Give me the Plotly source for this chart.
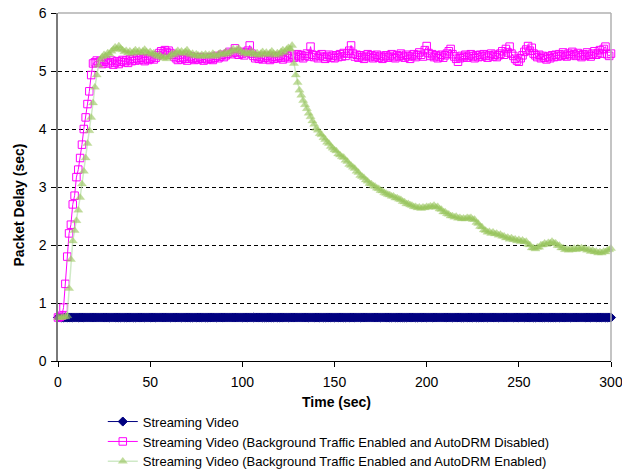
import plotly.graph_objects as go

time_sec = list(range(0, 301))

series_names = [
    "Streaming Video",
    "Streaming Video (Background Traffic Enabled and AutoDRM Disabled)",
    "Streaming Video (Background Traffic Enabled and AutoDRM Enabled)",
]

video_plain = [
    0.75, 0.75, 0.75, 0.75, 0.75, 0.75, 0.75, 0.75, 0.75, 0.75,
    0.75, 0.75, 0.75, 0.75, 0.75, 0.75, 0.75, 0.75, 0.75, 0.75,
    0.75, 0.75, 0.75, 0.75, 0.75, 0.75, 0.75, 0.75, 0.75, 0.75,
    0.75, 0.75, 0.75, 0.75, 0.75, 0.75, 0.75, 0.75, 0.75, 0.75,
    0.75, 0.75, 0.75, 0.75, 0.75, 0.75, 0.75, 0.75, 0.75, 0.75,
    0.75, 0.75, 0.75, 0.75, 0.75, 0.75, 0.75, 0.75, 0.75, 0.75,
    0.75, 0.75, 0.75, 0.75, 0.75, 0.75, 0.75, 0.75, 0.75, 0.75,
    0.75, 0.75, 0.75, 0.75, 0.75, 0.75, 0.75, 0.75, 0.75, 0.75,
    0.75, 0.75, 0.75, 0.75, 0.75, 0.75, 0.75, 0.75, 0.75, 0.75,
    0.75, 0.75, 0.75, 0.75, 0.75, 0.75, 0.75, 0.75, 0.75, 0.75,
    0.75, 0.75, 0.75, 0.75, 0.75, 0.75, 0.75, 0.75, 0.75, 0.75,
    0.75, 0.75, 0.75, 0.75, 0.75, 0.75, 0.75, 0.75, 0.75, 0.75,
    0.75, 0.75, 0.75, 0.75, 0.75, 0.75, 0.75, 0.75, 0.75, 0.75,
    0.75, 0.75, 0.75, 0.75, 0.75, 0.75, 0.75, 0.75, 0.75, 0.75,
    0.75, 0.75, 0.75, 0.75, 0.75, 0.75, 0.75, 0.75, 0.75, 0.75,
    0.75, 0.75, 0.75, 0.75, 0.75, 0.75, 0.75, 0.75, 0.75, 0.75,
    0.75, 0.75, 0.75, 0.75, 0.75, 0.75, 0.75, 0.75, 0.75, 0.75,
    0.75, 0.75, 0.75, 0.75, 0.75, 0.75, 0.75, 0.75, 0.75, 0.75,
    0.75, 0.75, 0.75, 0.75, 0.75, 0.75, 0.75, 0.75, 0.75, 0.75,
    0.75, 0.75, 0.75, 0.75, 0.75, 0.75, 0.75, 0.75, 0.75, 0.75,
    0.75, 0.75, 0.75, 0.75, 0.75, 0.75, 0.75, 0.75, 0.75, 0.75,
    0.75, 0.75, 0.75, 0.75, 0.75, 0.75, 0.75, 0.75, 0.75, 0.75,
    0.75, 0.75, 0.75, 0.75, 0.75, 0.75, 0.75, 0.75, 0.75, 0.75,
    0.75, 0.75, 0.75, 0.75, 0.75, 0.75, 0.75, 0.75, 0.75, 0.75,
    0.75, 0.75, 0.75, 0.75, 0.75, 0.75, 0.75, 0.75, 0.75, 0.75,
    0.75, 0.75, 0.75, 0.75, 0.75, 0.75, 0.75, 0.75, 0.75, 0.75,
    0.75, 0.75, 0.75, 0.75, 0.75, 0.75, 0.75, 0.75, 0.75, 0.75,
    0.75, 0.75, 0.75, 0.75, 0.75, 0.75, 0.75, 0.75, 0.75, 0.75,
    0.75, 0.75, 0.75, 0.75, 0.75, 0.75, 0.75, 0.75, 0.75, 0.75,
    0.75, 0.75, 0.75, 0.75, 0.75, 0.75, 0.75, 0.75, 0.75, 0.75,
    0.75,
]

video_drm_disabled = [
    0.75, 0.76, 0.78, 0.92, 1.33, 1.80, 2.20, 2.35, 2.70, 2.85,
    3.17, 3.30, 3.50, 3.73, 4.00, 4.20, 4.43, 4.65, 4.93, 5.13,
    5.15, 5.18, 5.14, 5.17, 5.12, 5.16, 5.19, 5.13, 5.15, 5.18,
    5.11, 5.14, 5.17, 5.12, 5.16, 5.19, 5.15, 5.18, 5.14, 5.20,
    5.17, 5.21, 5.18, 5.22, 5.19, 5.23, 5.20, 5.17, 5.22, 5.19,
    5.21, 5.24, 5.20, 5.23, 5.27, 5.31, 5.34, 5.30, 5.36, 5.32,
    5.35, 5.31, 5.28, 5.25, 5.22, 5.19, 5.23, 5.20, 5.24, 5.21,
    5.18, 5.22, 5.25, 5.21, 5.19, 5.23, 5.20, 5.24, 5.21, 5.18,
    5.22, 5.20, 5.24, 5.21, 5.19, 5.23, 5.26, 5.22, 5.25, 5.28,
    5.24, 5.27, 5.30, 5.33, 5.29, 5.32, 5.39, 5.31, 5.28, 5.33,
    5.30, 5.27, 5.32, 5.35, 5.44, 5.30, 5.26, 5.22, 5.25, 5.21,
    5.24, 5.20, 5.23, 5.26, 5.22, 5.19, 5.24, 5.21, 5.25, 5.22,
    5.26, 5.23, 5.20, 5.24, 5.27, 5.22, 5.25, 5.28, 5.23, 5.26,
    5.29, 5.24, 5.27, 5.22, 5.26, 5.30, 5.25, 5.42, 5.28, 5.24,
    5.27, 5.22, 5.26, 5.29, 5.24, 5.21, 5.25, 5.28, 5.23, 5.26,
    5.22, 5.27, 5.24, 5.29, 5.25, 5.31, 5.26, 5.30, 5.35, 5.44,
    5.30, 5.25, 5.28, 5.23, 5.27, 5.24, 5.21, 5.26, 5.29, 5.24,
    5.27, 5.22, 5.25, 5.28, 5.23, 5.26, 5.21, 5.24, 5.27, 5.23,
    5.26, 5.29, 5.24, 5.22, 5.27, 5.25, 5.30, 5.26, 5.23, 5.28,
    5.25, 5.21, 5.26, 5.29, 5.24, 5.27, 5.32, 5.28, 5.25, 5.36,
    5.43, 5.31, 5.26, 5.29, 5.24, 5.27, 5.22, 5.25, 5.28, 5.23,
    5.27, 5.30, 5.34, 5.38, 5.29, 5.25, 5.21, 5.16, 5.22, 5.26,
    5.24, 5.28, 5.23, 5.26, 5.29, 5.25, 5.22, 5.27, 5.24, 5.28,
    5.25, 5.29, 5.26, 5.23, 5.27, 5.30, 5.25, 5.28, 5.24, 5.27,
    5.30, 5.34, 5.28, 5.38, 5.32, 5.42, 5.30, 5.26, 5.21, 5.18,
    5.16, 5.22, 5.27, 5.33, 5.37, 5.43, 5.35, 5.40, 5.30, 5.27,
    5.24, 5.28, 5.22, 5.26, 5.23, 5.20, 5.25, 5.22, 5.27, 5.24,
    5.28, 5.25, 5.29, 5.26, 5.32, 5.28, 5.25, 5.30, 5.27, 5.33,
    5.29, 5.26, 5.31, 5.27, 5.24, 5.29, 5.26, 5.32, 5.28, 5.25,
    5.30, 5.34, 5.28, 5.31, 5.36, 5.30, 5.38, 5.42, 5.29, 5.26,
    5.30,
]

video_drm_enabled = [
    0.75, 0.75, 0.75, 0.76, 0.76, 0.78, 1.25, 1.75, 2.07, 2.25,
    2.42, 2.60, 2.82, 3.05, 3.27, 3.50, 3.75, 3.97, 4.20, 4.45,
    4.72, 4.93, 5.10, 5.20, 5.24, 5.28, 5.26, 5.31, 5.29, 5.34,
    5.37, 5.41, 5.38, 5.43, 5.39, 5.36, 5.33, 5.35, 5.31, 5.34,
    5.30, 5.33, 5.36, 5.32, 5.35, 5.31, 5.34, 5.37, 5.33, 5.30,
    5.33, 5.29, 5.31, 5.27, 5.25, 5.28, 5.24, 5.22, 5.25, 5.21,
    5.24, 5.27, 5.30, 5.28, 5.32, 5.35, 5.31, 5.34, 5.30, 5.33,
    5.36, 5.31, 5.28, 5.30, 5.26, 5.29, 5.27, 5.25, 5.28, 5.26,
    5.29, 5.25, 5.28, 5.26, 5.30, 5.27, 5.25, 5.29, 5.31, 5.28,
    5.30, 5.33, 5.29, 5.32, 5.35, 5.38, 5.34, 5.37, 5.39, 5.35,
    5.32, 5.30, 5.33, 5.29, 5.31, 5.34, 5.30, 5.28, 5.31, 5.27,
    5.30, 5.33, 5.29, 5.32, 5.28, 5.31, 5.34, 5.30, 5.27, 5.31,
    5.29, 5.33, 5.36, 5.32, 5.37, 5.40, 5.38, 5.44, 5.13, 4.93,
    4.80, 4.67, 4.58, 4.49, 4.42, 4.35, 4.27, 4.21, 4.14, 4.08,
    4.01, 3.98, 3.92, 3.90, 3.85, 3.82, 3.77, 3.75, 3.70, 3.67,
    3.64, 3.62, 3.57, 3.55, 3.52, 3.51, 3.46, 3.44, 3.39, 3.37,
    3.34, 3.32, 3.27, 3.25, 3.20, 3.18, 3.16, 3.12, 3.10, 3.06,
    3.05, 3.02, 3.01, 2.98, 2.97, 2.94, 2.93, 2.90, 2.89, 2.87,
    2.86, 2.84, 2.84, 2.81, 2.81, 2.79, 2.78, 2.75, 2.74, 2.71,
    2.71, 2.69, 2.68, 2.66, 2.66, 2.64, 2.65, 2.63, 2.65, 2.64,
    2.66, 2.65, 2.67, 2.66, 2.68, 2.65, 2.66, 2.62, 2.61, 2.57,
    2.57, 2.54, 2.53, 2.50, 2.50, 2.48, 2.49, 2.46, 2.47, 2.45,
    2.46, 2.45, 2.47, 2.46, 2.47, 2.44, 2.44, 2.39, 2.37, 2.32,
    2.31, 2.26, 2.25, 2.22, 2.23, 2.20, 2.22, 2.19, 2.20, 2.17,
    2.18, 2.15, 2.15, 2.12, 2.13, 2.10, 2.12, 2.09, 2.10, 2.07,
    2.09, 2.06, 2.08, 2.05, 2.06, 2.01, 2.00, 1.95, 1.95, 1.93,
    1.96, 1.96, 2.00, 2.00, 2.03, 2.01, 2.04, 2.03, 2.06, 2.03,
    2.03, 1.99, 1.99, 1.95, 1.95, 1.92, 1.93, 1.91, 1.93, 1.92,
    1.94, 1.92, 1.95, 1.93, 1.95, 1.93, 1.94, 1.91, 1.92, 1.89,
    1.91, 1.88, 1.89, 1.86, 1.88, 1.86, 1.89, 1.88, 1.91, 1.92,
    1.94,
]

x_ticks = [0, 50, 100, 150, 200, 250, 300]
y_ticks = [0, 1, 2, 3, 4, 5, 6]

FONT = "Liberation Sans, Arial, sans-serif"

fig = go.Figure()

fig.add_trace(go.Scatter(
    x=time_sec, y=video_plain, name=series_names[0],
    mode="lines+markers",
    line=dict(color="#000080", width=1),
    marker=dict(symbol="diamond", size=7, color="#000080",
                line=dict(color="#000080", width=1)),
    cliponaxis=False,
))
fig.add_trace(go.Scatter(
    x=time_sec, y=video_drm_disabled, name=series_names[1],
    mode="lines+markers",
    line=dict(color="#FF00FF", width=1),
    marker=dict(symbol="square-open", size=7.5, color="#FF00FF",
                line=dict(color="#FF00FF", width=1)),
    cliponaxis=False,
))
fig.add_trace(go.Scatter(
    x=time_sec, y=video_drm_enabled, name=series_names[2],
    mode="lines+markers",
    line=dict(color="rgba(195,228,185,0.8)", width=1.5),
    marker=dict(symbol="triangle-up", size=8, color="rgba(150,195,90,0.6)",
                line=dict(color="rgba(170,210,120,0.5)", width=0.5)),
    cliponaxis=False,
))

fig.update_layout(
    width=622, height=473,
    margin=dict(l=58, r=11, t=13, b=112, autoexpand=False),
    paper_bgcolor="white", plot_bgcolor="white",
    font=dict(family=FONT, color="black", size=13),
    showlegend=True,
    legend=dict(
        x=0.081, y=-0.131, xanchor="left", yanchor="top",
        orientation="v", bgcolor="rgba(0,0,0,0)",
        font=dict(family=FONT, size=13, color="black"),
        tracegroupgap=0,
    ),
    xaxis=dict(
        range=[0, 300], tickvals=x_ticks, ticktext=[str(v) for v in x_ticks],
        showgrid=False, zeroline=False, automargin=False,
        showline=True, linecolor="black", linewidth=1,
        ticks="outside", ticklen=5, tickcolor="black",
        ticklabelstandoff=3, ticklabeloverflow="allow",
        tickfont=dict(family=FONT, size=14, color="black"),
    ),
    yaxis=dict(
        range=[0, 6], tickvals=y_ticks, ticktext=[str(v) for v in y_ticks],
        showgrid=True, gridcolor="black", gridwidth=1, griddash="4px,3px",
        zeroline=False, automargin=False,
        showline=True, linecolor="#7a7a7a", linewidth=1.5,
        ticks="outside", ticklen=5, tickcolor="black",
        ticklabelstandoff=2, ticklabeloverflow="allow",
        tickfont=dict(family=FONT, size=14, color="black"),
    ),
    shapes=[
        dict(type="line", xref="paper", yref="paper", x0=0, x1=1, y0=1, y1=1,
             line=dict(color="#b0b0b0", width=1.5), layer="above"),
        dict(type="line", xref="paper", yref="paper", x0=1, x1=1, y0=0, y1=1,
             line=dict(color="#b0b0b0", width=1.5), layer="above"),
    ],
    annotations=[
        dict(text="<b>Time (sec)</b>", xref="paper", yref="paper",
             x=0.503, y=-0.119, xanchor="center", yanchor="middle",
             showarrow=False, font=dict(family=FONT, size=14, color="black")),
        dict(text="<b>Packet Delay (sec)</b>", xref="paper", yref="paper",
             x=-0.071, y=0.449, xanchor="center", yanchor="middle",
             textangle=-90, showarrow=False,
             font=dict(family=FONT, size=14, color="black")),
    ],
)

fig.write_html(
    "out.html",
    config={"displayModeBar": False},
    post_script="document.body.style.margin='0';document.body.style.overflow='hidden';",
)
